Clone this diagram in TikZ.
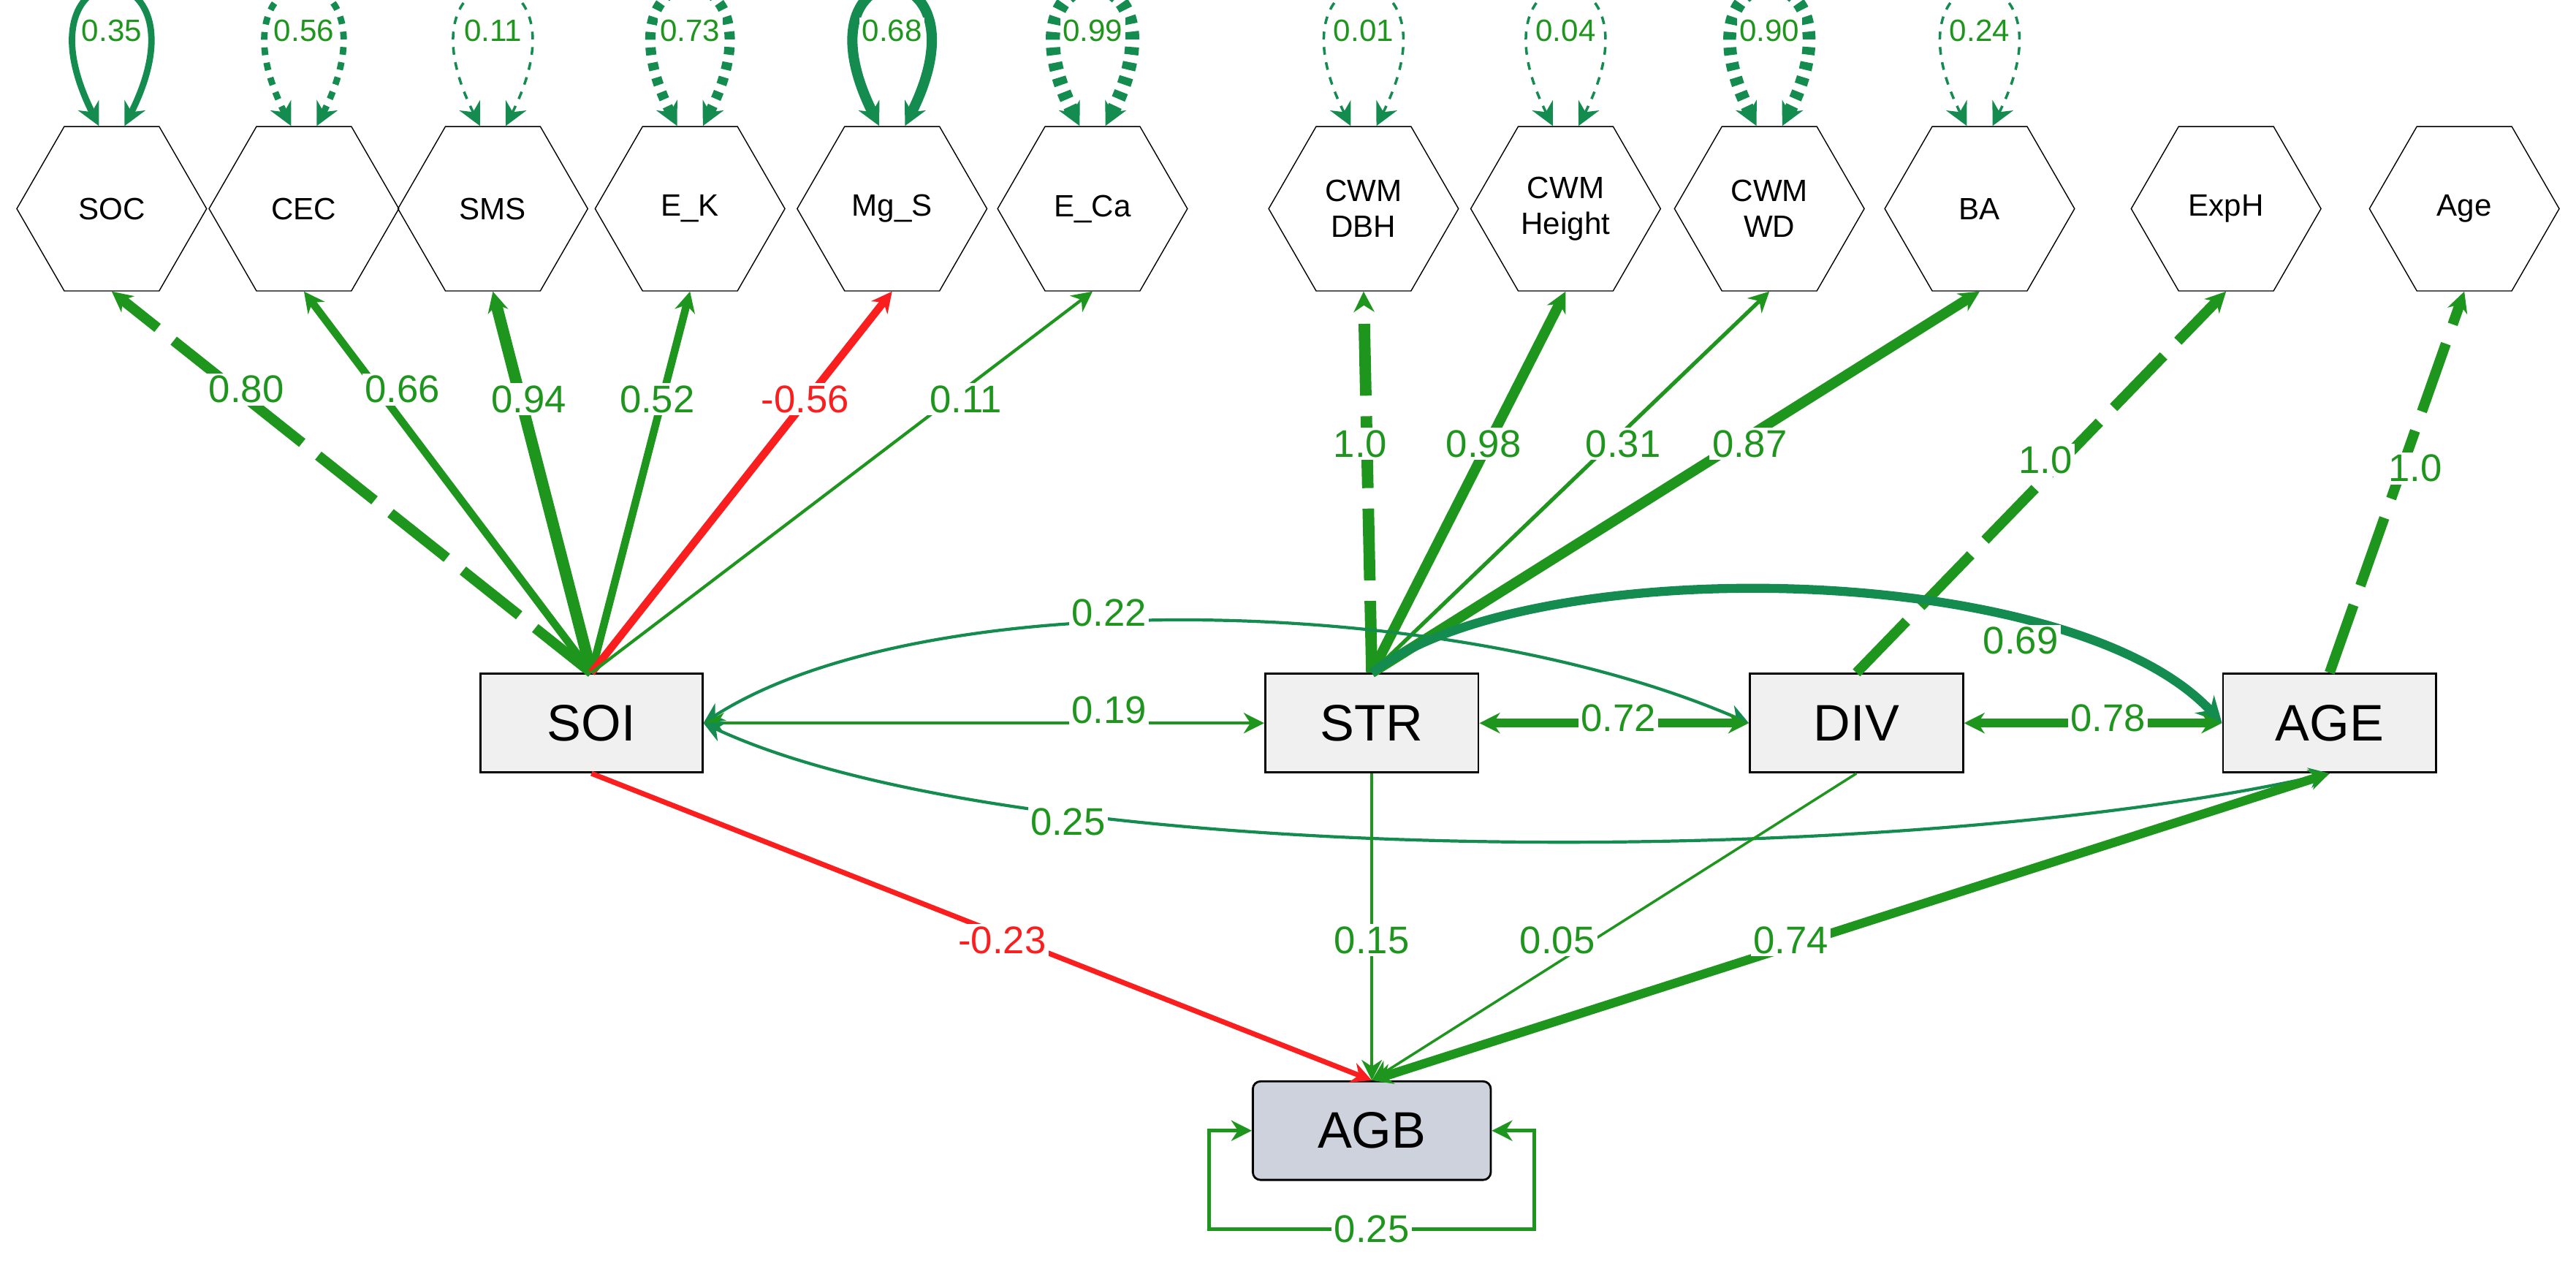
\documentclass[tikz,border=0pt]{standalone}
\usepackage{fontspec}
\setmainfont{Liberation Sans}
\usetikzlibrary{shapes.geometric,arrows.meta}
\definecolor{semgreen}{RGB}{30,150,30}
\definecolor{semteal}{RGB}{20,140,80}
\definecolor{semred}{RGB}{250,30,30}
\definecolor{agbfill}{RGB}{205,210,220}
\tikzset{
  hexa/.style={draw, regular polygon, regular polygon sides=6, minimum size=2.6cm,
    inner sep=0pt, font=\fontsize{12}{14}\selectfont, align=center},
  latent/.style={draw, thick, fill=gray!12, minimum width=3.04cm, minimum height=1.35cm,
    font=\fontsize{20}{22}\selectfont},
  load/.style={semgreen, -{Stealth[length=8pt,width=8pt]}},
  cov/.style={semteal, {Stealth[length=8pt,width=8pt]}-{Stealth[length=8pt,width=8pt]}},
  lbl/.style={fill=white, inner sep=1pt, text=semgreen, font=\fontsize{15}{17}\selectfont},
  longdash/.style={dash pattern=on 28pt off 8pt},
}
\begin{document}
\begin{tikzpicture}[x=0.0225cm, y=-0.0225cm]
  \useasboundingbox (0,0) rectangle (1568,772);
  % indicators
  \node [hexa] (soc) at (68,127) {SOC};
  \node [hexa] (cec) at (185,127) {CEC};
  \node [hexa] (sms) at (300,127) {SMS};
  \node [hexa] (ek) at (420,127) {E\_K};
  \node [hexa] (mgs) at (543,127) {Mg\_S};
  \node [hexa] (eca) at (665,127) {E\_Ca};
  \node [hexa] (dbh) at (830,127) {CWM\\DBH};
  \node [hexa] (hgt) at (953,127) {CWM\\Height};
  \node [hexa] (wd) at (1077,127) {CWM\\WD};
  \node [hexa] (ba) at (1205,127) {BA};
  \node [hexa] (exph) at (1355,127) {ExpH};
  \node [hexa] (age) at (1500,127) {Age};
  % latent variables
  \node [latent] (SOI) at (360,440) {SOI};
  \node [latent, minimum width=2.92cm] (STR) at (835,440) {STR};
  \node [latent, minimum width=2.92cm] (DIV) at (1130,440) {DIV};
  \node [latent, minimum width=2.92cm] (AGE) at (1418,440) {AGE};
  \node [latent, fill=agbfill, rounded corners=3pt, minimum width=3.26cm] (AGB) at (835,688) {AGB};
  % residual variances
  \foreach \n/\v/\w/\d in {soc/0.35/2.5pt/solid, cec/0.56/2.5pt/dashed, sms/0.11/1pt/dashed,
      ek/0.73/4pt/dashed, mgs/0.68/4pt/solid, eca/0.99/5.5pt/dashed, dbh/0.01/1pt/dashed,
      hgt/0.04/1pt/dashed, wd/0.90/5pt/dashed, ba/0.24/1pt/dashed} {
    \draw [semteal, line width=\w, \d, {Stealth[length=9pt,width=9pt]}-{Stealth[length=9pt,width=9pt]}]
      ([xshift=-5pt]\n.north) .. controls +(-55,-110) and +(55,-110) .. ([xshift=5pt]\n.north);
    \node [lbl, font=\fontsize{12}{14}\selectfont] at ([yshift=1.3cm]\n.north) {\v};
  }
  % soil loadings
  \draw [load, line width=4pt, longdash] (SOI.north) -- (soc.south);
  \draw [load, line width=3pt] (SOI.north) -- (cec.south);
  \draw [load, line width=4.5pt] (SOI.north) -- (sms.south);
  \draw [load, line width=3pt] (SOI.north) -- (ek.south);
  \draw [load, line width=3pt, semred] (SOI.north) -- (mgs.south);
  \draw [load, line width=1.2pt] (SOI.north) -- (eca.south);
  \node [lbl] at (150,237) {0.80};
  \node [lbl] at (245,237) {0.66};
  \node [lbl] at (322,243) {0.94};
  \node [lbl] at (400,243) {0.52};
  \node [lbl, text=semred] at (490,243) {-0.56};
  \node [lbl] at (588,243) {0.11};
  % structure loadings
  \draw [load, line width=4.5pt, longdash] (STR.north) -- (dbh.south);
  \draw [load, line width=4pt] (STR.north) -- (hgt.south);
  \draw [load, line width=1.5pt] (STR.north) -- (wd.south);
  \draw [load, line width=4pt] (STR.north) -- (ba.south);
  \draw [load, line width=4pt, longdash] (DIV.north) -- (exph.south);
  \draw [load, line width=4pt, longdash] (AGE.north) -- (age.south);
  \node [lbl] at (828,270) {1.0};
  \node [lbl] at (903,270) {0.98};
  \node [lbl] at (988,270) {0.31};
  \node [lbl] at (1065,270) {0.87};
  \node [lbl] at (1245,280) {1.0};
  \node [lbl] at (1470,285) {1.0};
  % covariances
  \draw [cov, line width=1.2pt] (SOI.east) .. controls (560,355) and (880,360) .. (DIV.west);
  \draw [cov, line width=1.2pt, semgreen] (SOI.east) -- (STR.west);
  \draw [cov, line width=1.2pt] (SOI.east) .. controls (620,530) and (1150,530) .. (AGE.south);
  \draw [semteal, line width=3.5pt, -{Stealth[length=10pt,width=10pt]}] (STR.north) .. controls (930,335) and (1260,340) .. (AGE.west);
  \draw [cov, semgreen, line width=3.5pt] (STR.east) -- (DIV.west);
  \draw [cov, semgreen, line width=3.5pt] (DIV.east) -- (AGE.west);
  \node [lbl] at (675,373) {0.22};
  \node [lbl] at (675,432) {0.19};
  \node [lbl] at (1230,390) {0.69};
  \node [lbl] at (985,437) {0.72};
  \node [lbl] at (1283,437) {0.78};
  \node [lbl] at (650,500) {0.25};
  % paths to AGB
  \draw [load, semred, line width=2pt] (SOI.south) -- (AGB.north);
  \draw [load, line width=1pt] (STR.south) -- (AGB.north);
  \draw [load, line width=1pt] (DIV.south) -- (AGB.north);
  \draw [cov, semgreen, line width=3.5pt] (AGE.south) -- (AGB.north);
  \node [lbl, text=semred] at (610,572) {-0.23};
  \node [lbl] at (835,572) {0.15};
  \node [lbl] at (948,572) {0.05};
  \node [lbl] at (1090,572) {0.74};
  \draw [cov, semgreen, line width=1.5pt] (AGB.west) -- ++(-26,0) |- (835,748) -| ([xshift=26*0.0225cm]AGB.east) -- (AGB.east);
  \node [lbl] at (835,748) {0.25};
\end{tikzpicture}
\end{document}
